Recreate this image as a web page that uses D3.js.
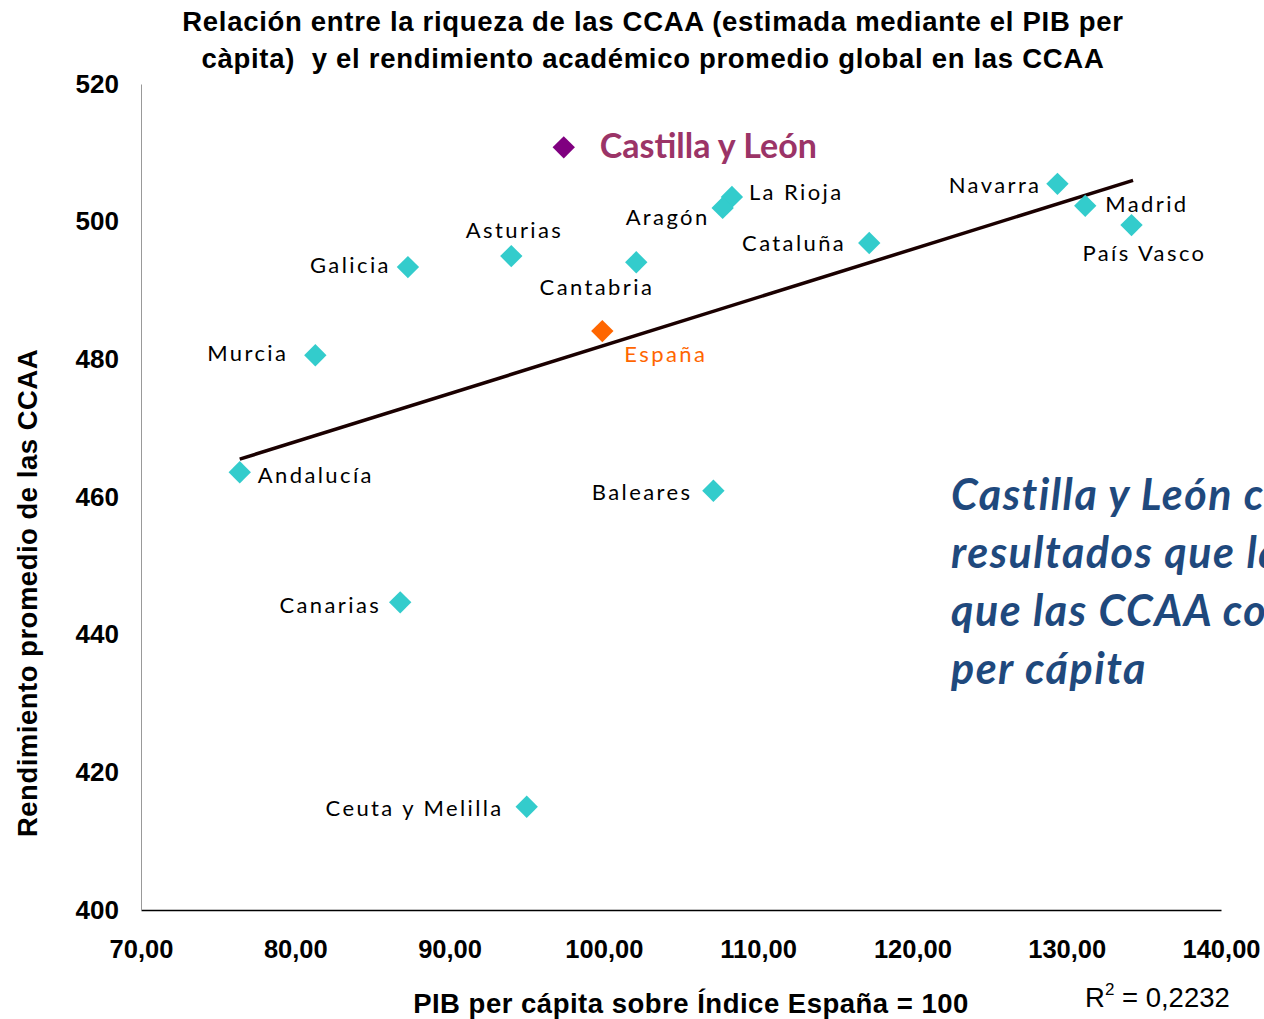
<!DOCTYPE html>
<html><head><meta charset="utf-8">
<script src="https://cdn.jsdelivr.net/npm/d3@7"></script>
<style>html,body{margin:0;padding:0;background:#fff;overflow:hidden}</style>
</head><body>
<svg id="chart" width="1264" height="1019"></svg>
<script>
// ---- data ----
const regions = ["Castilla y León","La Rioja","Aragón","Navarra","Madrid","País Vasco","Cataluña","Asturias","Galicia","Cantabria","España","Murcia","Andalucía","Baleares","Canarias","Ceuta y Melilla"];
const pibIndex = [97.4,108.3,107.7,129.4,131.2,134.2,117.2,94.0,87.3,102.1,99.9,81.3,76.4,107.1,86.8,95.0];
const rendimiento = [510.8,503.6,502.0,505.5,502.3,499.5,496.9,495.0,493.4,494.1,484.1,480.6,463.6,460.9,444.7,415.0];
const pointType = ["cyl","ccaa","ccaa","ccaa","ccaa","ccaa","ccaa","ccaa","ccaa","ccaa","esp","ccaa","ccaa","ccaa","ccaa","ccaa"];
const trendX = [76.4, 134.3];
const trendY = [465.5, 506.0];
const xTicks = [70,80,90,100,110,120,130,140];
const yTicks = [400,420,440,460,480,500,520];
const r2Text = "0,2232";
const noteLines = ["Castilla y León consigue mejores","resultados que la media y","que las CCAA con mayor PIB","per cápita"];

// ---- layout (label offsets in px) ----
const labelPos = {
  "Castilla y León":[36,11,"start"],
  "La Rioja":[17,3,"start"],
  "Aragón":[-13,17,"end"],
  "Navarra":[-16,9,"end"],
  "Madrid":[20,6,"start"],
  "País Vasco":[-49,36,"start"],
  "Cataluña":[-23,8,"end"],
  "Asturias":[52,-18,"end"],
  "Galicia":[-17,6,"end"],
  "Cantabria":[18,33,"end"],
  "España":[22,31,"start"],
  "Murcia":[-27,6,"end"],
  "Andalucía":[18,11,"start"],
  "Baleares":[-21,9,"end"],
  "Canarias":[-19,11,"end"],
  "Ceuta y Melilla":[-23,9,"end"]
};
const colors = {ccaa:"#33CCCC", esp:"#FF6600", cyl:"#800080"};
const AR = "Liberation Sans, Arial, sans-serif";

const svg = d3.select("#chart");
const x = d3.scaleLinear().domain([70,140]).range([141,1221]);
const y = d3.scaleLinear().domain([400,520]).range([910,84]);

// title
const title = svg.append("text").attr("text-anchor","middle")
  .attr("font-family",AR).attr("font-weight","bold").attr("font-size",27.5)
  .attr("letter-spacing",0.7).attr("fill","#000").style("white-space","pre");
title.append("tspan").attr("x",653).attr("y",31).text("Relación entre la riqueza de las CCAA (estimada mediante el PIB per");
title.append("tspan").attr("x",653).attr("y",68).text("càpita)  y el rendimiento académico promedio global en las CCAA");

// axes
const xAxis = svg.append("g").attr("transform","translate(0,910)")
  .call(d3.axisBottom(x).tickValues(xTicks).tickSize(0).tickPadding(30)
    .tickFormat(d=>d3.format(".2f")(d).replace(".",",")));
xAxis.select(".domain").attr("stroke","#000").attr("stroke-width",1.5);
xAxis.selectAll("text").attr("font-family",AR).attr("font-weight","bold").attr("font-size",25.5).attr("fill","#000");

const yAxis = svg.append("g").attr("transform","translate(141,0)")
  .call(d3.axisLeft(y).tickValues(yTicks).tickSize(0).tickPadding(22));
yAxis.select(".domain").attr("stroke","#999").attr("stroke-width",1);
yAxis.selectAll("text").attr("font-family",AR).attr("font-weight","bold").attr("font-size",26).attr("fill","#000");

// axis titles
svg.append("text").attr("x",691).attr("y",1013).attr("text-anchor","middle")
  .attr("font-family",AR).attr("font-weight","bold").attr("font-size",27.5).attr("letter-spacing",0.5)
  .text("PIB per cápita sobre Índice España = 100");
svg.append("text").attr("transform","translate(37,593) rotate(-90)").attr("text-anchor","middle")
  .attr("font-family",AR).attr("font-weight","bold").attr("font-size",27.5).attr("letter-spacing",0.5)
  .text("Rendimiento promedio de las CCAA");
const r2 = svg.append("text").attr("x",1085).attr("y",1007)
  .attr("font-family",AR).attr("font-size",27.5);
r2.append("tspan").text("R");
r2.append("tspan").attr("dy",-12).attr("font-size",17).text("2");
r2.append("tspan").attr("dy",12).text(" = " + r2Text);

// trend line
svg.append("line")
  .attr("x1",x(trendX[0])).attr("y1",y(trendY[0]))
  .attr("x2",x(trendX[1])).attr("y2",y(trendY[1]))
  .attr("stroke","#1a0000").attr("stroke-width",3.5);

// points
const pts = regions.map((r,i)=>({name:r, px:pibIndex[i], ry:rendimiento[i], t:pointType[i]}));
const sym = d3.symbol().type(d3.symbolSquare).size(250);
svg.selectAll("path.pt").data(pts).join("path").attr("class","pt")
  .attr("d",sym)
  .attr("transform",d=>`translate(${x(d.px)},${y(d.ry)}) rotate(45)`)
  .attr("fill",d=>colors[d.t]);

// labels
svg.selectAll("text.lbl").data(pts).join("text").attr("class","lbl")
  .attr("x",d=>x(d.px)+labelPos[d.name][0])
  .attr("y",d=>y(d.ry)+labelPos[d.name][1])
  .attr("text-anchor",d=>labelPos[d.name][2])
  .attr("font-family","Lato, 'Open Sans', sans-serif")
  .attr("font-size",d=>d.t==="cyl"?34:22)
  .attr("font-weight",d=>d.t==="cyl"?"bold":"normal")
  .attr("letter-spacing",d=>d.t==="cyl"?0:2.4)
  .attr("fill",d=>d.t==="cyl"?"#9B3467":(d.t==="esp"?"#FF6600":"#000"))
  .text(d=>d.name);

// note (clipped by the right edge, as in the original)
const note = svg.append("text").attr("font-family","Lato, 'Open Sans', sans-serif")
  .attr("font-weight","bold").attr("font-style","italic").attr("font-size",43)
  .attr("letter-spacing",1.5).attr("fill","#1F497D");
noteLines.forEach((l,i)=>note.append("tspan").attr("x",951).attr("y",510+i*58).text(l));
</script>
</body></html>
